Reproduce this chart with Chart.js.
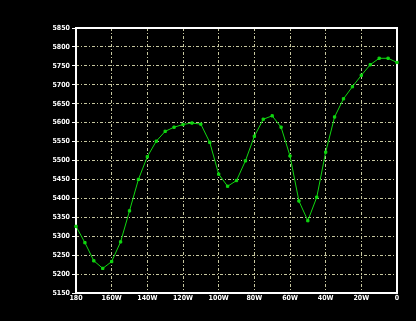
<!DOCTYPE html>
<html>
<head>
<meta charset="utf-8">
<script src="https://cdn.jsdelivr.net/npm/chart.js@4.4.0/dist/chart.umd.min.js"></script>
<style>
  body { margin: 0; background: #000; }
  canvas { display: block; }
</style>
</head>
<body>
<canvas id="lineChart" width="416" height="321"></canvas>
<script>
"use strict";

// longitudes (degrees, west negative) and height values
var longitudes = [-180, -175, -170, -165, -160, -155, -150, -145, -140, -135, -130, -125,
                  -120, -115, -110, -105, -100, -95, -90, -85, -80, -75, -70, -65,
                  -60, -55, -50, -45, -40, -35, -30, -25, -20, -15, -10, -5, 0];
var heights = [5326, 5283, 5235, 5215, 5233, 5285, 5367, 5450, 5510, 5551, 5577, 5588,
               5595, 5599, 5596, 5548, 5464, 5432, 5447, 5499, 5564, 5609, 5618, 5588,
               5512, 5393, 5341, 5403, 5522, 5615, 5663, 5695, 5725, 5753, 5770, 5770, 5759];
var yTicks = [5150, 5850, 50];   // min, max, step
var xTicks = [-180, 0, 20];

var tickFont = { family: "'Liberation Sans Narrow', 'DejaVu Sans Condensed', sans-serif", size: 7, weight: 'bold' };

function lonLabel(v) {
    if (v === 0) return '0';
    if (v === -180) return '180';
    return (-v) + 'W';
}

// white frame around the plot area
var framePlugin = {
    id: 'frame',
    beforeDatasetsDraw: function (chart) {
        var a = chart.chartArea, c = chart.ctx;
        c.save();
        c.strokeStyle = '#ffffff';
        c.lineWidth = 2;
        c.strokeRect(a.left, a.top, a.right - a.left, a.bottom - a.top);
        c.restore();
    }
};

var ctx = document.getElementById("lineChart").getContext("2d");
var chart = new Chart(ctx, {
    type: 'line',
    data: {
        datasets: [{
            data: longitudes.map(function (x, i) { return { x: x, y: heights[i] }; }),
            borderColor: '#10d810',
            backgroundColor: '#10d810',
            borderWidth: 1,
            pointStyle: 'rect',
            pointRadius: 1.6,
            pointBorderWidth: 1,
            tension: 0,
            clip: false
        }]
    },
    options: {
        responsive: false,
        animation: false,
        layout: { padding: { left: 0, right: 19, top: 28, bottom: 0 } },
        plugins: { legend: { display: false }, tooltip: { enabled: false } },
        scales: {
            x: {
                type: 'linear',
                min: xTicks[0], max: xTicks[1],
                afterFit: function (s) { s.height = 28; },
                ticks: { stepSize: xTicks[2], color: '#ffffff', font: tickFont, padding: 1, maxRotation: 0, callback: lonLabel },
                grid: { color: '#c8c8a0', lineWidth: 1, drawTicks: false },
                border: { display: false, dash: [3, 2, 1, 2] }
            },
            y: {
                min: yTicks[0], max: yTicks[1],
                afterFit: function (s) { s.width = 76; },
                ticks: { stepSize: yTicks[2], color: '#ffffff', font: tickFont, padding: 2,
                         callback: function (v) { return String(v); } },
                grid: { color: '#c8c8a0', lineWidth: 1, tickLength: 4, tickColor: '#ffffff' },
                border: { display: false, dash: [3, 2, 1, 2] }
            }
        }
    },
    plugins: [framePlugin]
});
</script>
</body>
</html>
